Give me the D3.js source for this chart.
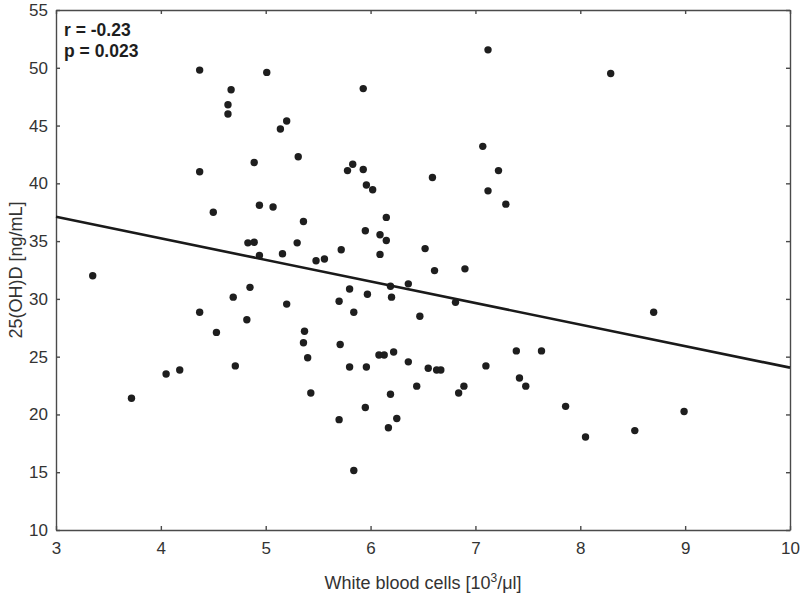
<!DOCTYPE html>
<head>
<meta charset="utf-8">
<style>
  body { margin: 0; background: #fff; }
  svg text { font-family: 'Liberation Sans', Arial, sans-serif; }
  .axis path, .axis line { stroke: #4a4a4a; stroke-width: 1.4; }
  .axis text { fill: #333; font-size: 17px; }
  .dot { fill: #1e1e1e; }
  .fit { stroke: #1a1a1a; stroke-width: 2.6; fill: none; }
</style>
<title>25(OH)D vs white blood cells</title>
</head>
<body>
<svg width="800" height="596"></svg>
<script src="https://cdn.jsdelivr.net/npm/d3@7"></script>
<script>

// white blood cells [10^3/ul]
var wbc = [3.35, 3.72, 4.05, 4.18, 4.37, 4.37, 4.37, 4.50, 4.53, 4.64, 4.64, 4.67,
  4.69, 4.71, 4.82, 4.83, 4.85, 4.89, 4.89, 4.94, 4.94, 5.01, 5.07, 5.14, 5.16,
  5.20, 5.20, 5.30, 5.31, 5.36, 5.37, 5.36, 5.40, 5.43, 5.48, 5.56, 5.70, 5.70,
  5.71, 5.72, 5.78, 5.80, 5.80, 5.83, 5.84, 5.84, 5.93, 5.93, 5.95, 5.95, 5.96,
  5.96, 5.97, 6.02, 6.08, 6.09, 6.09, 6.13, 6.15, 6.15, 6.17, 6.19, 6.19, 6.20,
  6.22, 6.25, 6.36, 6.36, 6.44, 6.47, 6.52, 6.55, 6.59, 6.61, 6.63, 6.67, 6.81,
  6.84, 6.89, 6.90, 7.07, 7.10, 7.12, 7.12, 7.22, 7.29, 7.39, 7.42, 7.48, 7.63,
  7.86, 8.05, 8.29, 8.52, 8.70, 8.99];

// 25(OH)D [ng/mL]
var vitd = [32.0, 21.4, 23.5, 23.85, 49.8, 41.0, 28.85, 37.5, 27.1, 46.8, 46.0, 48.1,
  30.15, 24.2, 28.2, 34.85, 31.0, 34.9, 41.8, 38.1, 33.75, 49.6, 37.95, 44.7, 33.9,
  45.4, 29.55, 34.85, 42.3, 36.7, 27.2, 26.2, 24.9, 21.85, 33.3, 33.45, 29.8, 19.55,
  26.05, 34.25, 41.1, 30.85, 24.1, 41.65, 28.85, 15.15, 48.2, 41.2, 35.9, 20.6, 39.85,
  24.1, 30.4, 39.45, 25.15, 35.55, 33.85, 25.15, 37.05, 35.05, 18.85, 31.1, 21.75, 30.15,
  25.4, 19.65, 31.3, 24.55, 22.45, 28.5, 34.35, 24.0, 40.5, 32.45, 23.85, 23.85, 29.7,
  21.85, 22.45, 32.6, 43.2, 24.2, 51.55, 39.35, 41.1, 38.2, 25.5, 23.15, 22.45, 25.5,
  20.7, 18.05, 49.5, 18.6, 28.85, 20.25];

// fitted line end points
var fitX = [3, 10];
var fitY = [37.1, 24.05];

var stats = ["r = -0.23", "p = 0.023"];

var xTicks = [3, 4, 5, 6, 7, 8, 9, 10];
var yTicks = [10, 15, 20, 25, 30, 35, 40, 45, 50, 55];

var svg = d3.select("svg"),
    margin = {top: 10, right: 10, bottom: 66, left: 56},
    width = +svg.attr("width") - margin.left - margin.right,
    height = +svg.attr("height") - margin.top - margin.bottom;

var x = d3.scaleLinear().domain([3, 10]).range([0, width]),
    y = d3.scaleLinear().domain([10, 55]).range([height, 0]);

var g = svg.append("g")
    .attr("transform", "translate(" + margin.left + "," + margin.top + ")");

// axes, ticks point inward on all four sides
g.append("g")
    .attr("class", "axis")
    .attr("transform", "translate(0," + height + ")")
    .call(d3.axisBottom(x).tickValues(xTicks).tickFormat(d3.format("d"))
      .tickSizeInner(-4).tickSizeOuter(0).tickPadding(12));

g.append("g")
    .attr("class", "axis")
    .call(d3.axisTop(x).tickValues(xTicks).tickSizeInner(-4).tickSizeOuter(0).tickFormat(""));

g.append("g")
    .attr("class", "axis")
    .call(d3.axisLeft(y).tickValues(yTicks).tickSizeInner(-4).tickSizeOuter(0).tickPadding(8));

g.append("g")
    .attr("class", "axis")
    .attr("transform", "translate(" + width + ",0)")
    .call(d3.axisRight(y).tickValues(yTicks).tickSizeInner(-4).tickSizeOuter(0).tickFormat(""));

// the 10 at the right end must stay inside the window
g.selectAll(".axis .tick text").filter(function(d) { return d === 10 && this.textContent === "10"; })
    .attr("text-anchor", function() { return d3.select(this.parentNode.parentNode).attr("transform") ? "middle" : "end"; });

// points
g.selectAll(".dot")
  .data(wbc)
  .enter().append("circle")
    .attr("class", "dot")
    .attr("cx", function(d) { return x(d); })
    .attr("cy", function(d, i) { return y(vitd[i]); })
    .attr("r", 3.7);

// regression line
g.append("line")
    .attr("class", "fit")
    .attr("x1", x(fitX[0])).attr("y1", y(fitY[0]))
    .attr("x2", x(fitX[1])).attr("y2", y(fitY[1]));

// r / p annotation
g.selectAll(".stat")
  .data(stats)
  .enter().append("text")
    .attr("class", "stat")
    .attr("x", 8)
    .attr("y", function(d, i) { return 26 + i * 21; })
    .attr("font-size", "17.5px")
    .attr("font-weight", "bold")
    .attr("fill", "#1e1e1e")
    .text(function(d) { return d; });

// axis titles
var xl = svg.append("text")
    .attr("x", margin.left + width / 2)
    .attr("y", 589)
    .attr("text-anchor", "middle")
    .attr("font-size", "18px")
    .attr("fill", "#333");
xl.append("tspan").text("White blood cells [10");
xl.append("tspan").attr("dy", -7).attr("font-size", "12px").text("3");
xl.append("tspan").attr("dy", 7).text("/μl]");

svg.append("text")
    .attr("transform", "translate(22," + (margin.top + height / 2) + ") rotate(-90)")
    .attr("text-anchor", "middle")
    .attr("font-size", "18px")
    .attr("fill", "#333")
    .text("25(OH)D [ng/mL]");

</script>
</body>
